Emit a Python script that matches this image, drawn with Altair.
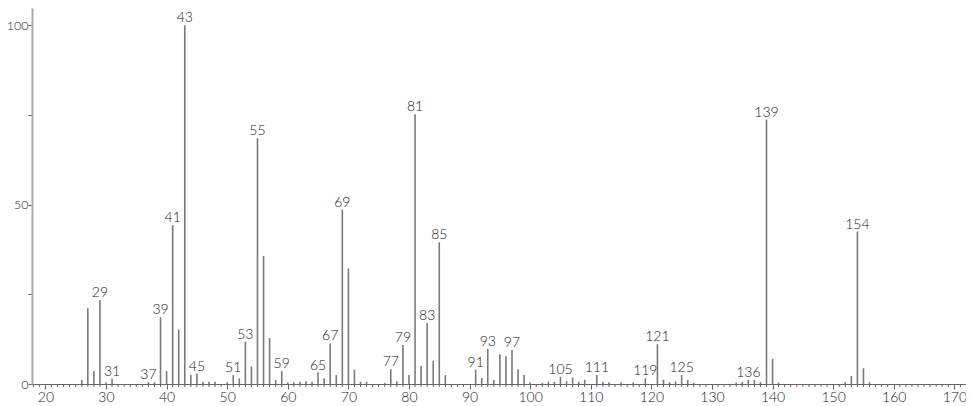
import altair as alt
import pandas as pd

mz = [26, 27, 28, 29, 30, 31, 37, 38, 39, 40, 41, 42, 43, 44, 45, 46, 47, 48,
      50, 51, 52, 53, 54, 55, 56, 57, 58, 59, 60, 61, 62, 63, 64, 65, 66, 67,
      68, 69, 70, 71, 72, 73, 76, 77, 78, 79, 80, 81, 82, 83, 84, 85, 86,
      91, 92, 93, 94, 95, 96, 97, 98, 99, 100, 102, 103, 104, 105, 106, 107,
      108, 109, 111, 112, 113, 115, 117, 119, 121, 122, 123, 124, 125, 126,
      127, 134, 135, 136, 137, 138, 139, 140, 141, 152, 153, 154, 155, 156]
intensity = [1.1, 21.1, 3.6, 23.4, 0.4, 1.5, 0.5, 0.5, 18.6, 3.6, 44.3, 15.2, 100, 2.5, 2.9, 0.6, 0.6, 0.6,
             0.4, 2.5, 1.6, 11.8, 4.9, 68.5, 35.7, 12.8, 1.1, 3.6, 0.4, 0.5, 0.6, 0.8, 0.6, 3.2, 1.6, 11.3,
             2.5, 48.6, 32.2, 4.0, 0.6, 0.6, 0.3, 4.1, 0.8, 10.9, 2.5, 75.2, 5.0, 17.0, 6.5, 39.5, 2.5,
             4.0, 1.7, 9.8, 1.1, 8.3, 7.7, 9.5, 4.1, 2.5, 0.4, 0.3, 0.6, 0.6, 2.0, 0.8, 1.8,
             0.6, 1.2, 2.5, 0.6, 0.5, 0.4, 0.4, 1.6, 11.1, 1.2, 0.5, 0.7, 2.5, 1.1,
             0.3, 0.4, 0.6, 1.1, 1.1, 0.6, 73.7, 7.0, 0.4, 0.5, 2.2, 42.5, 4.4, 0.5]
labeled = [29, 31, 37, 39, 41, 43, 45, 51, 53, 55, 59, 65, 67, 69, 77, 79, 81, 83,
           85, 91, 93, 97, 105, 111, 119, 121, 125, 136, 139, 154]
x_major = list(range(20, 171, 10))
x_minor = [v for v in range(18, 172) if v % 10 != 0]
y_ticks = [0, 25, 50, 75, 100]

df = pd.DataFrame({"mz": mz, "intensity": intensity})
lab = df[df["mz"].isin(labeled)].copy()
lab["label"] = lab["mz"].astype(str)
minor = pd.DataFrame({"tick": x_minor})

FONT = "Lato"
H = 376
W = 934
xscale = alt.Scale(domain=[17.79, 171.92], nice=False, zero=False)
yscale = alt.Scale(domain=[0, 104.8], nice=False)

xaxis = alt.Axis(
    values=x_major, tickSize=5, labelOverlap=False, labelFlush=False, grid=False,
    title=None, domainColor="#666666", tickColor="#666666", labelColor="#222222",
    labelFont=FONT, labelFontSize=14, labelFontWeight=300, labelPadding=1,
)
yaxis = alt.Axis(
    values=y_ticks,
    labelExpr="datum.value % 50 === 0 ? datum.label : ''",
    tickSize=4, labelOverlap=False, labelFlush=False, grid=False, title=None,
    domainColor="#aaaaaa", domainWidth=2, tickColor="#666666", labelColor="#222222",
    labelFont=FONT, labelFontSize=12.5, labelFontWeight=300, labelPadding=0,
)

bars = alt.Chart(df).mark_rule(color="#7a7a7a", strokeWidth=1.6).encode(
    x=alt.X("mz:Q", scale=xscale, axis=xaxis),
    y=alt.Y("intensity:Q", scale=yscale, axis=yaxis),
    y2=alt.datum(0),
)

minor_ticks = alt.Chart(minor).mark_rule(color="#666666", strokeWidth=1).encode(
    x=alt.X("tick:Q", scale=xscale),
    y=alt.value(H),
    y2=alt.value(H + 3),
)

texts = alt.Chart(lab).mark_text(
    baseline="alphabetic", dy=-3, fontSize=14, fontWeight=300, font=FONT, color="#222222"
).encode(
    x=alt.X("mz:Q", scale=xscale),
    y=alt.Y("intensity:Q", scale=yscale),
    text="label:N",
)

chart = alt.layer(bars, minor_ticks, texts).properties(
    width=W, height=H,
    autosize=alt.AutoSizeParams(type="none"),
    padding={"left": 24, "top": 0, "right": 0, "bottom": 22},
).configure_view(stroke=None)

chart.save("out.html", embed_options={"renderer": "svg", "actions": False})
